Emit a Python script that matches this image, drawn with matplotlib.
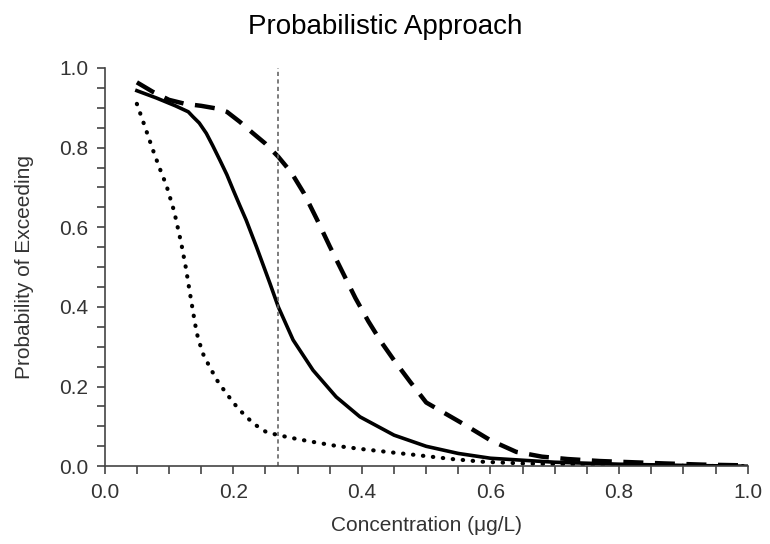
import numpy as np
import matplotlib
matplotlib.use("Agg")
import matplotlib.pyplot as plt
from matplotlib.ticker import MultipleLocator

plt.rcParams['font.family'] = ['Liberation Sans', 'DejaVu Sans']

# concentration values (ug/L) and probability of exceeding
conc_solid = [0.05, 0.08, 0.11, 0.13, 0.137, 0.147, 0.158, 0.168, 0.179, 0.19, 0.20, 0.21,
              0.22, 0.236, 0.257, 0.27, 0.293, 0.324, 0.36, 0.397, 0.45, 0.50, 0.55,
              0.60, 0.70, 0.80, 0.90, 1.00]
prob_solid = [0.943, 0.925, 0.905, 0.89, 0.878, 0.862, 0.836, 0.805, 0.769, 0.732, 0.693, 0.655,
              0.618, 0.551, 0.459, 0.400, 0.317, 0.241, 0.174, 0.124, 0.078, 0.050, 0.032,
              0.020, 0.010, 0.005, 0.002, 0.0]

conc_dash = [0.05, 0.075, 0.10, 0.125, 0.15, 0.175, 0.19, 0.21, 0.23, 0.25, 0.27, 0.29,
             0.31, 0.33, 0.35, 0.37, 0.39, 0.41, 0.43, 0.45, 0.475, 0.50, 0.53, 0.56,
             0.60, 0.64, 0.68, 0.72, 0.77, 0.82, 0.87, 0.93, 1.00]
prob_dash = [0.964, 0.940, 0.920, 0.910, 0.905, 0.898, 0.890, 0.865, 0.837, 0.810, 0.777, 0.738,
             0.685, 0.620, 0.552, 0.487, 0.422, 0.364, 0.312, 0.266, 0.212, 0.160, 0.132, 0.104,
             0.065, 0.036, 0.024, 0.018, 0.013, 0.010, 0.007, 0.004, 0.002]

conc_dot = [0.05, 0.062, 0.075, 0.085, 0.096, 0.108, 0.119, 0.126, 0.132, 0.138, 0.143,
            0.152, 0.163, 0.175, 0.189, 0.205, 0.22, 0.235, 0.251, 0.27, 0.30, 0.324,
            0.36, 0.40, 0.45, 0.485, 0.54, 0.59, 0.65, 0.70, 0.80, 0.90, 1.00]
prob_dot = [0.910, 0.855, 0.794, 0.750, 0.705, 0.640, 0.560, 0.500, 0.440, 0.382, 0.335,
            0.285, 0.250, 0.215, 0.183, 0.150, 0.124, 0.103, 0.086, 0.078, 0.068, 0.061,
            0.051, 0.043, 0.034, 0.028, 0.018, 0.011, 0.007, 0.005, 0.003, 0.001, 0.0]

threshold = 0.27

text_col = '#333333'

fig = plt.figure(figsize=(7.7, 5.44), dpi=100)
ax = fig.add_axes([0.136, 0.143, 0.835, 0.732])

ax.plot(conc_solid, prob_solid, color='black', lw=2.6, solid_joinstyle='round')
ax.plot(conc_dash, prob_dash, color='black', lw=3.2, dashes=(4.5, 2.6),
        dash_joinstyle='round')
ax.plot(conc_dot, prob_dot, color='black', lw=3.0, linestyle=(0, (0.1, 2.3)),
        dash_capstyle='round')
ax.axvline(threshold, color='#666666', lw=1.2, linestyle=(0, (2.5, 2)))

ax.set_xlim(0, 1.0)
ax.set_ylim(0, 1.0)
ax.xaxis.set_major_locator(MultipleLocator(0.2))
ax.xaxis.set_minor_locator(MultipleLocator(0.05))
ax.yaxis.set_major_locator(MultipleLocator(0.2))
ax.yaxis.set_minor_locator(MultipleLocator(0.05))
ax.xaxis.set_major_formatter(plt.FormatStrFormatter('%.1f'))
ax.yaxis.set_major_formatter(plt.FormatStrFormatter('%.1f'))

for s in ['top', 'right']:
    ax.spines[s].set_visible(False)
for s in ['left', 'bottom']:
    ax.spines[s].set_color('#444444')
    ax.spines[s].set_linewidth(1.2)

ax.tick_params(which='both', direction='out', length=6, width=1.2, color='#444444',
               labelsize=15, labelcolor=text_col, pad=6)

ax.set_xlabel('Concentration (μg/L)', fontsize=15, color=text_col, labelpad=10)
ax.set_ylabel('Probability of Exceeding', fontsize=15, color=text_col, labelpad=18)
fig.suptitle('Probabilistic Approach', fontsize=20, color='black', y=0.975)

fig.savefig('out.png', dpi=100)
